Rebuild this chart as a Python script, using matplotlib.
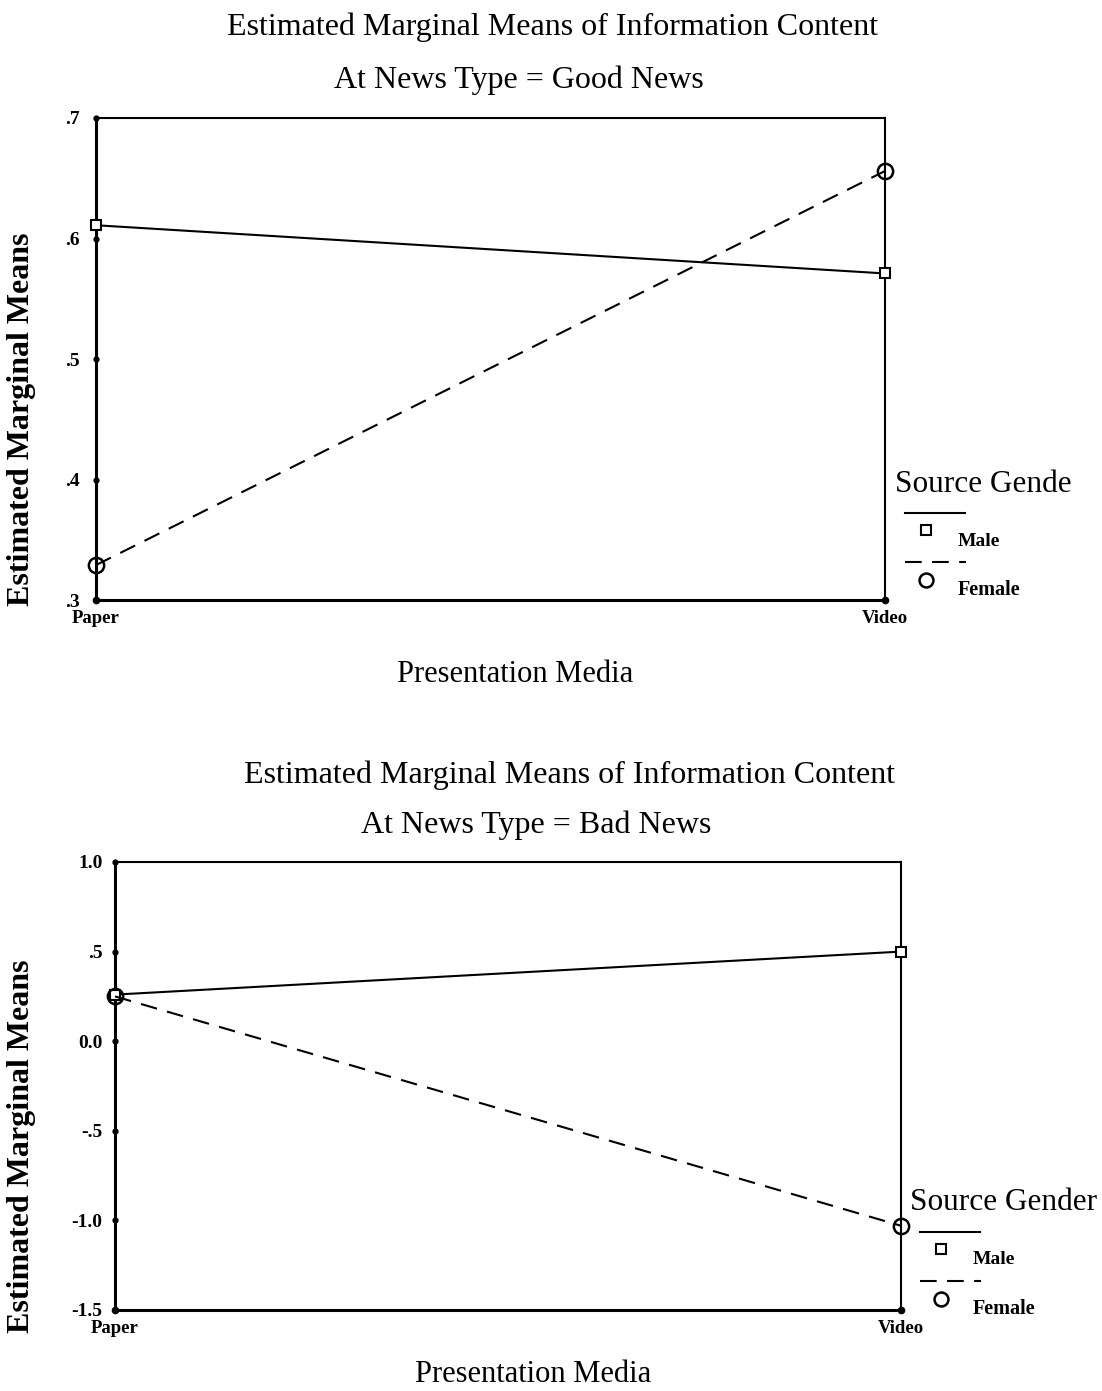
#################### Libraries
import numpy as np
import matplotlib.pyplot as plt
from matplotlib.lines import Line2D

plt.rcParams['font.family'] = ['Liberation Serif', 'DejaVu Serif']

#################### Data
media = ['Paper', 'Video']
x = np.arange(len(media))

good_male = [0.611, 0.571]
good_female = [0.329, 0.656]
good_ticks = [0.3, 0.4, 0.5, 0.6, 0.7]
good_labels = ['.3', '.4', '.5', '.6', '.7']

bad_male = [0.26, 0.50]
bad_female = [0.25, -1.03]
bad_ticks = [-1.5, -1.0, -0.5, 0.0, 0.5, 1.0]
bad_labels = ['-1.5', '-1.0', '-.5', '0.0', '.5', '1.0']

#################### Figure
W, H = 1102, 1391
fig = plt.figure(figsize=(W / 100, H / 100), dpi=100)


def fx(px):
    return px / W


def fy(py):
    return 1 - py / H


def panel(box, male, female, ticks, labels, subtitle, titles_y, xlab_y, legend, legend_title, ypad):
    left, top, right, bottom = box
    ax = fig.add_axes([fx(left), fy(bottom), fx(right - left), (bottom - top) / H])
    ax.plot(x, male, color='black', lw=1.5, marker='s', ms=7, mfc='white', mec='black', mew=1.5,
            clip_on=False, zorder=5)
    ax.plot(x, female, color='black', lw=1.5, dashes=(8, 5), marker='o', ms=11, mfc='none',
            mec='black', mew=1.8, clip_on=False, zorder=5)
    ax.set_xlim(0, 1)
    ax.set_ylim(ticks[0], ticks[-1])
    # dots on the axes instead of tick marks
    ax.plot(np.zeros(len(ticks)), ticks, 'k.', ms=7, clip_on=False, zorder=6)
    ax.plot(x, [ticks[0]] * len(x), 'k.', ms=9, clip_on=False, zorder=6)
    ax.set_yticks(ticks)
    ax.set_yticklabels(labels, fontsize=14, fontweight='bold')
    ax.set_xticks(x)
    ax.set_xticklabels(media, fontsize=13.5, fontweight='bold')
    ax.tick_params(length=0)
    ax.tick_params(axis='y', pad=ypad)
    ax.tick_params(axis='x', pad=7)
    for s in ['left', 'bottom']:
        ax.spines[s].set_linewidth(2.2)
    for s in ['top', 'right']:
        ax.spines[s].set_linewidth(1.5)

    ty, sy = titles_y
    fig.text(fx((left + right) / 2 + 62), fy(ty), 'Estimated Marginal Means of Information Content',
             ha='center', va='center', fontsize=23)
    fig.text(fx((left + right) / 2 + 28), fy(sy), subtitle, ha='center', va='center', fontsize=23)
    fig.text(fx(22), fy((top + bottom) / 2 + 60), 'Estimated Marginal Means', rotation=90,
             ha='center', va='center', fontsize=23, fontweight='bold')
    fig.text(fx((left + right) / 2 + 25), fy(xlab_y), 'Presentation Media', ha='center', va='center',
             fontsize=22)

    # legend block to the right of the plot
    lx, ly = legend
    fig.text(fx(lx), fy(ly), legend_title, ha='left', va='center', fontsize=22.5)
    fig.add_artist(Line2D([fx(lx + 10), fx(lx + 70)], [fy(ly + 29)] * 2, color='black', lw=1.5))
    fig.add_artist(Line2D([fx(lx + 31)], [fy(ly + 46)], marker='s', ms=7, mfc='white', mec='black',
                          mew=1.5, ls='none'))
    fig.text(fx(lx + 63), fy(ly + 57), 'Male', ha='left', va='center', fontsize=14, fontweight='bold')
    fig.add_artist(Line2D([fx(lx + 10), fx(lx + 71)], [fy(ly + 78)] * 2, color='black', lw=1.5,
                          dashes=(8, 5)))
    fig.add_artist(Line2D([fx(lx + 31)], [fy(ly + 96)], marker='o', ms=10, mfc='none', mec='black',
                          mew=1.8, ls='none'))
    fig.text(fx(lx + 63), fy(ly + 106), 'Female', ha='left', va='center', fontsize=14.5, fontweight='bold')
    return ax


#################### Good News
panel((96, 118, 885, 600), good_male, good_female, good_ticks, good_labels,
      'At News Type = Good News', (27, 80), 675, (895, 484), 'Source Gende', 12)

#################### Bad News
panel((115, 862, 901, 1310), bad_male, bad_female, bad_ticks, bad_labels,
      'At News Type = Bad News', (775, 825), 1374, (910, 1203), 'Source Gender', 9)

fig.savefig('out.png', dpi=100)
